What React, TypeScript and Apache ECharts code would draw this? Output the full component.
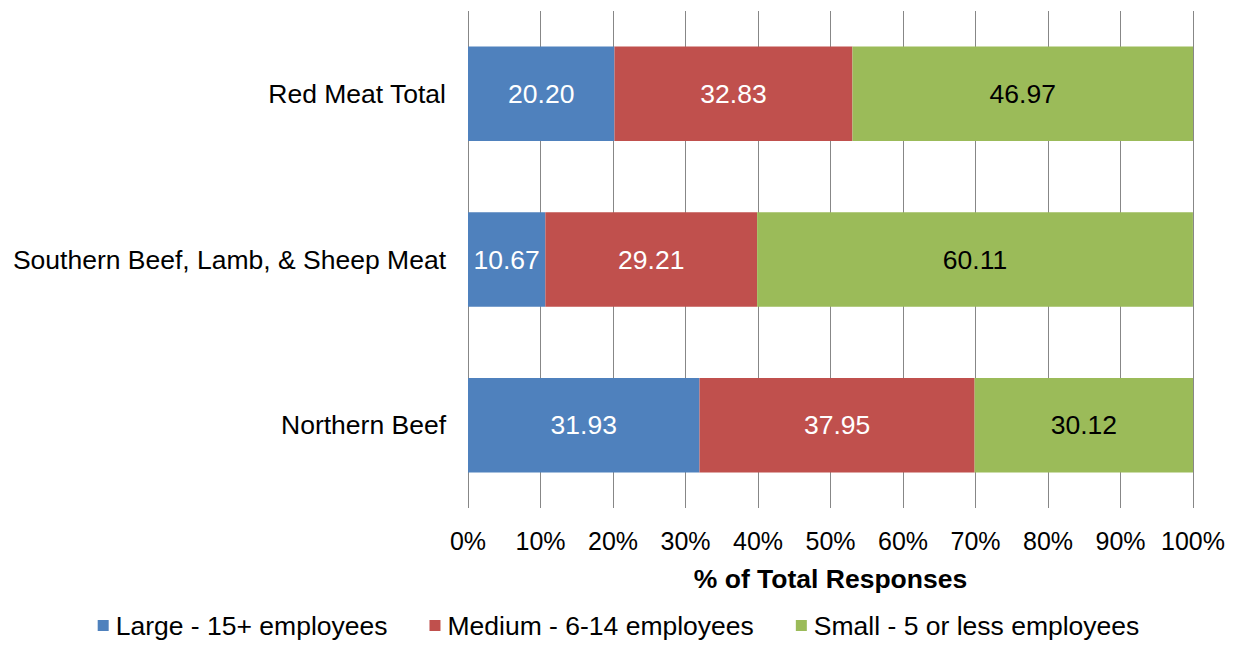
import React, { useEffect, useRef } from "react";
import * as echarts from "echarts";

const categories = ["Red Meat Total", "Southern Beef, Lamb, & Sheep Meat", "Northern Beef"];
const seriesNames = ["Large - 15+ employees", "Medium - 6-14 employees", "Small - 5 or less employees"];
const largeValues = [20.2, 10.67, 31.93];
const mediumValues = [32.83, 29.21, 37.95];
const smallValues = [46.97, 60.11, 30.12];
const xTicks = [0, 10, 20, 30, 40, 50, 60, 70, 80, 90, 100];
const colors = ["#4F81BD", "#C0504D", "#9BBB59"];
const labelColors = ["#ffffff", "#ffffff", "#000000"];

export default function App() {
  const ref = useRef<HTMLDivElement>(null);
  useEffect(() => {
    if (!ref.current) return;
    const chart = echarts.init(ref.current, undefined, { renderer: "svg" });
    const font = "Liberation Sans, Arial, sans-serif";
    const data = [largeValues, mediumValues, smallValues];
    chart.setOption({
      animation: false,
      textStyle: { fontFamily: font },
      grid: { left: 468, right: 44, top: 11, bottom: 139, containLabel: false },
      legend: {
        top: 612,
        left: "center",
        icon: "rect",
        itemWidth: 11,
        itemHeight: 11,
        itemGap: 42,
        padding: 0,
        textStyle: { fontSize: 26.5, color: "#000", fontFamily: font, padding: [0, 0, 0, 2] },
        data: seriesNames,
      },
      xAxis: {
        type: "value",
        min: 0,
        max: 100,
        interval: 10,
        name: "% of Total Responses",
        nameLocation: "middle",
        nameGap: 57,
        nameTextStyle: { fontSize: 26.5, fontWeight: "bold", color: "#000", fontFamily: font },
        axisLine: { show: false },
        axisTick: { show: false },
        axisLabel: {
          fontSize: 25,
          color: "#000",
          margin: 20,
          formatter: (v: number) => (xTicks.includes(v) ? v + "%" : ""),
        },
        splitLine: { show: true, lineStyle: { color: "#878787", width: 1 } },
      },
      yAxis: {
        type: "category",
        data: categories,
        inverse: true,
        axisLine: { show: false },
        axisTick: { show: false },
        axisLabel: { fontSize: 26.5, color: "#000", margin: 22 },
        splitLine: { show: false },
      },
      series: seriesNames.map((name, i) => ({
        name,
        type: "bar",
        stack: "total",
        barCategoryGap: "43%",
        itemStyle: { color: colors[i] },
        label: {
          show: true,
          position: "inside",
          fontSize: 26.5,
          color: labelColors[i],
          fontFamily: font,
          formatter: (p: any) => Number(p.value).toFixed(2),
        },
        data: data[i],
      })),
    });
    return () => chart.dispose();
  }, []);
  return (
    <div
      ref={ref}
      style={{ position: "fixed", left: 0, top: 0, width: 1237, height: 647, background: "#fff" }}
    />
  );
}
